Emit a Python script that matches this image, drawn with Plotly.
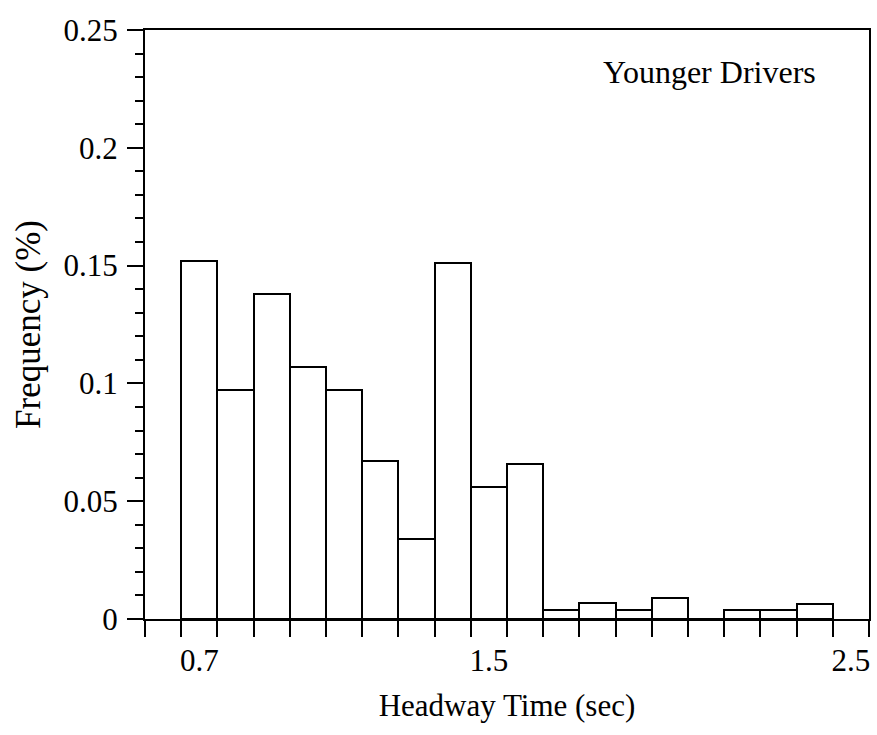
import numpy as np
import plotly.graph_objects as go

# Data: bin centers (sec) and frequency
headway = [0.7, 0.8, 0.9, 1.0, 1.1, 1.2, 1.3, 1.4, 1.5, 1.6, 1.7, 1.8, 1.9, 2.0, 2.1, 2.2, 2.3, 2.4]
frequency = [0.152, 0.097, 0.138, 0.107, 0.097, 0.067, 0.034, 0.151, 0.056, 0.066,
             0.004, 0.0067, 0.0038, 0.0088, 0.0, 0.004, 0.0038, 0.0064]
x_tick_labels = [0.7, 1.5, 2.5]
bin_width = 0.1

FONT = "Liberation Serif"

fig = go.Figure()
fig.add_trace(go.Bar(
    x=headway, y=frequency, width=bin_width,
    marker=dict(color="white", line=dict(color="black", width=2)),
    showlegend=False,
))

bin_edges = list(np.round(np.arange(0.55, 2.551, bin_width), 3))

fig.update_layout(
    width=877, height=735,
    margin=dict(l=145, r=6, t=30, b=116),
    paper_bgcolor="white", plot_bgcolor="white",
    font=dict(family=FONT, color="black", size=31),
    bargap=0,
    xaxis=dict(
        range=[0.55, 2.55],
        tickmode="array", tickvals=x_tick_labels, ticktext=["0.7", "1.5", "2.5"],
        ticks="", ticklabelstandoff=13,
        showline=True, linecolor="black", linewidth=2, mirror=True,
        showgrid=False, zeroline=False,
        minor=dict(tickmode="array", tickvals=bin_edges, ticks="outside",
                   ticklen=16, tickwidth=1.5, tickcolor="black", showgrid=False),
        title=dict(text="Headway Time (sec)", font=dict(size=31), standoff=17),
        tickfont=dict(size=31),
    ),
    yaxis=dict(
        range=[0, 0.25], tickmode="linear", tick0=0, dtick=0.05,
        ticks="outside", ticklen=16, tickwidth=1.5, tickcolor="black",
        showline=True, linecolor="black", linewidth=2, mirror=True,
        showgrid=False, zeroline=False,
        minor=dict(dtick=0.01, ticks="outside", ticklen=8, tickwidth=1.5,
                   tickcolor="black", showgrid=False),
        title=dict(text="Frequency (%)", font=dict(size=35), standoff=12),
        tickfont=dict(size=31),
        ticklabelstandoff=3,
    ),
    annotations=[dict(
        x=2.11, y=0.232, xref="x", yref="y", text="Younger Drivers",
        showarrow=False, font=dict(size=32, family=FONT), xanchor="center", yanchor="middle",
    )],
)

fig.write_html("out.html")
